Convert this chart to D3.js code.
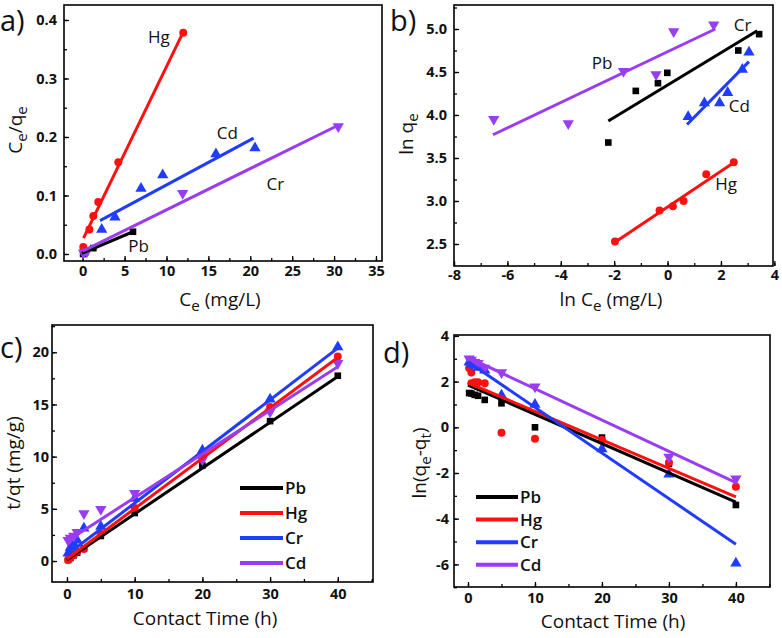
<!DOCTYPE html>
<html><head><meta charset="utf-8">
<script src="https://cdn.jsdelivr.net/npm/d3@7"></script>
<style>body{margin:0;background:#fff} svg{display:block} text{font-family:"Open Sans",sans-serif}</style>
</head><body><svg id="chart" width="782" height="638"></svg>
<script>
// ---------- colours ----------
const cBlack = "#000000", cRed = "#ff1010", cBlue = "#1f3cff", cPurple = "#9a3cf2";

// ---------- Panel a (Langmuir) ----------
const aHgX = [0.07, 0.8, 1.27, 1.86, 4.25, 12.0];
const aHgY = [0.012, 0.042, 0.065, 0.089, 0.157, 0.378];
const aHgFitX = [0.1, 11.95], aHgFitY = [0.027, 0.378];
const aCdX = [2.27, 3.85, 6.96, 9.55, 15.9, 20.56];
const aCdY = [0.042, 0.063, 0.112, 0.135, 0.171, 0.181];
const aCdFitX = [2.07, 20.4], aCdFitY = [0.057, 0.198];
const aCrX = [0.1, 0.5, 11.93, 30.5];
const aCrY = [0.002, 0.004, 0.104, 0.218];
const aCrFitX = [0.0, 30.5], aCrFitY = [0.005, 0.220];
const aPbX = [0.05, 0.3, 1.27, 6.0];
const aPbY = [0.0, 0.003, 0.01, 0.038];
const aPbFitX = [-0.1, 6.0], aPbFitY = [0.001, 0.038];
const aXTicks = [0, 5, 10, 15, 20, 25, 30, 35];
const aYTicks = [0.0, 0.1, 0.2, 0.3, 0.4];

// ---------- Panel b (Freundlich) ----------
const bPbX = [-6.51, -3.72, -1.65, -0.43, 0.23, 1.73];
const bPbY = [3.95, 3.90, 4.51, 4.47, 4.97, 5.05];
const bPbFitX = [-6.54, 1.79], bPbFitY = [3.77, 5.0];
const bCrX = [-2.22, -1.19, -0.36, -0.01, 2.65, 3.43];
const bCrY = [3.68, 4.28, 4.37, 4.49, 4.75, 4.94];
const bCrFitX = [-2.22, 3.36], bCrFitY = [3.93, 4.98];
const bCdX = [0.77, 1.38, 1.95, 2.25, 2.8, 3.05];
const bCdY = [3.98, 4.14, 4.14, 4.26, 4.53, 4.73];
const bCdFitX = [0.73, 3.05], bCdFitY = [3.89, 4.62];
const bHgX = [-1.97, -0.3, 0.2, 0.6, 1.45, 2.48];
const bHgY = [2.53, 2.89, 2.94, 3.0, 3.31, 3.45];
const bHgFitX = [-1.97, 2.5], bHgFitY = [2.52, 3.45];
const bXTicks = [-8, -6, -4, -2, 0, 2, 4];
const bYTicks = [2.5, 3.0, 3.5, 4.0, 4.5, 5.0];

// ---------- Panel c (pseudo-second order) ----------
const cTime = [0.17, 0.5, 1, 1.5, 2.5, 5, 10, 20, 30, 40];
const cPbY = [0.1, 0.3, 0.55, 0.8, 1.2, 2.4, 4.6, 9.15, 13.4, 17.75];
const cHgY = [0.1, 0.3, 0.6, 0.9, 1.15, 2.6, 5.07, 10.0, 14.75, 19.6];
const cCrY = [0.75, 1.3, 1.6, 2.0, 3.15, 3.3, 6.0, 10.6, 15.5, 20.5];
const cCdY = [2.0, 2.2, 2.4, 2.75, 4.55, 4.95, 6.5, 9.7, 14.3, 18.95];
const cPbFitX = [0, 40], cPbFitY = [0.13, 17.67];
const cHgFitX = [0, 40], cHgFitY = [0.2, 19.5];
const cCrFitX = [0, 40], cCrFitY = [0.6, 20.4];
const cCdFitX = [0, 40], cCdFitY = [1.9, 18.6];
const cXTicks = [0, 10, 20, 30, 40];
const cYTicks = [0, 5, 10, 15, 20];

// ---------- Panel d (pseudo-first order) ----------
const dPbX = [0.17, 0.5, 1, 1.5, 2.5, 5, 10, 20, 30, 40];
const dPbY = [1.5, 1.48, 1.42, 1.38, 1.2, 1.05, 0.0, -0.45, -1.6, -3.4];
const dHgX = [0.17, 0.5, 0.5, 1, 1.5, 2.5, 5, 10, 20, 30, 40];
const dHgY = [2.6, 2.4, 1.93, 1.97, 1.97, 1.93, -0.24, -0.5, -0.55, -1.55, -2.6];
const dCrX = [0.17, 0.5, 1, 1.5, 2.5, 5, 10, 20, 30, 40];
const dCrY = [2.85, 2.75, 2.7, 2.62, 2.5, 1.4, 1.0, -0.95, -2.05, -5.95];
const dCdX = [0.17, 0.5, 1, 1.5, 2.5, 5, 10, 30, 40];
const dCdY = [3.0, 2.95, 2.85, 2.8, 2.6, 2.4, 1.78, -1.3, -2.25];
const dPbFitX = [0, 40], dPbFitY = [1.85, -3.27];
const dHgFitX = [0, 40], dHgFitY = [1.95, -3.05];
const dCrFitX = [0, 40], dCrFitY = [2.87, -5.12];
const dCdFitX = [0, 40], dCdFitY = [3.06, -2.42];
const dXTicks = [0, 10, 20, 30, 40];
const dYTicks = [-6, -4, -2, 0, 2, 4];

const legendNames = ["Pb", "Hg", "Cr", "Cd"];
const legendColors = [cBlack, cRed, cBlue, cPurple];

// ---------- drawing ----------
const svg = d3.select("#chart");
svg.append("rect").attr("width", 782).attr("height", 638).attr("fill", "#fff");

const shapes = {
  square: d3.symbol().type(d3.symbolSquare).size(44),
  circle: d3.symbol().type(d3.symbolCircle).size(50),
  up: d3.symbol().type(d3.symbolTriangle).size(55),
  down: d3.symbol().type(d3.symbolTriangle).size(55)
};

function range(a, b, s) { const r = []; for (let v = a; v <= b + 1e-9; v += s) r.push(+v.toFixed(4)); return r; }

function richText(sel, parts, size) {
  parts.forEach(([t, sub], i) => {
    const ts = sel.append("tspan").text(t);
    if (sub) ts.attr("font-size", size * 0.8).attr("dy", size * 0.28);
    else if (i > 0 && parts[i - 1][1]) ts.attr("dy", -size * 0.28);
  });
}

function panel(p) {
  const g = svg.append("g");
  const x = d3.scaleLinear().domain(p.xDom).range([p.l, p.r]);
  const y = d3.scaleLinear().domain(p.yDom).range([p.b, p.t]);
  const fmt = p.fmt || (d => String(d));

  // minor ticks
  g.append("g").attr("transform", `translate(0,${p.b})`)
    .call(d3.axisBottom(x).tickValues(p.xMinor).tickSize(-3).tickFormat(""))
    .call(a => a.select(".domain").remove());
  g.append("g").attr("transform", `translate(${p.l},0)`)
    .call(d3.axisLeft(y).tickValues(p.yMinor).tickSize(-3).tickFormat(""))
    .call(a => a.select(".domain").remove());
  // major ticks
  const xa = g.append("g").attr("transform", `translate(0,${p.b})`)
    .call(d3.axisBottom(x).tickValues(p.xTicks).tickSize(-5).tickPadding(p.xPad).tickFormat(d => String(d)));
  const ya = g.append("g").attr("transform", `translate(${p.l},0)`)
    .call(d3.axisLeft(y).tickValues(p.yTicks).tickSize(-5).tickPadding(p.yPad).tickFormat(fmt));
  [xa, ya].forEach(a => {
    a.select(".domain").remove();
    a.selectAll("text").attr("font-family", "'Open Sans', sans-serif").attr("font-size", 14.5)
      .attr("font-weight", "bold").attr("fill", "#111");
  });
  g.selectAll(".tick line").attr("stroke", "#000").attr("stroke-width", 1.3);

  // series: markers then fits
  const plot = g.append("g");
  p.series.forEach(s => {
    plot.selectAll(null).data(s.x.map((v, i) => [v, s.y[i]])).join("path")
      .attr("d", shapes[s.shape])
      .attr("transform", d => `translate(${x(d[0])},${y(d[1])})` + (s.shape === "down" ? " rotate(180)" : ""))
      .attr("fill", s.color);
  });
  p.series.forEach(s => {
    plot.append("path")
      .attr("d", d3.line().x(d => x(d[0])).y(d => y(d[1]))(s.fx.map((v, i) => [v, s.fy[i]])))
      .attr("stroke", s.color).attr("stroke-width", 3).attr("fill", "none");
  });

  // data labels
  (p.labels || []).forEach(lb => {
    g.append("text").attr("x", x(lb[1])).attr("y", y(lb[2])).text(lb[0])
      .attr("font-size", 17).attr("fill", "#111");
  });

  // frame
  g.append("rect").attr("x", p.l).attr("y", p.t).attr("width", p.r - p.l).attr("height", p.b - p.t)
    .attr("fill", "none").attr("stroke", "#000").attr("stroke-width", 1.6);

  // axis titles
  const xt = g.append("text").attr("x", p.xTitlePos[0]).attr("y", p.xTitlePos[1])
    .attr("text-anchor", "middle").attr("font-size", 19).attr("fill", "#111");
  richText(xt, p.xTitle, 19);
  const yt = g.append("text").attr("transform", `translate(${p.yTitlePos[0]},${p.yTitlePos[1]}) rotate(-90)`)
    .attr("text-anchor", "middle").attr("font-size", 19).attr("fill", "#111");
  richText(yt, p.yTitle, 19);

  // panel tag
  g.append("text").attr("x", p.tag[1]).attr("y", p.tag[2]).text(p.tag[0])
    .attr("font-family", "'DejaVu Sans', sans-serif").attr("font-size", 29).attr("fill", "#111");

  // legend
  if (p.legend) {
    legendNames.forEach((n, i) => {
      const yy = p.legend.y0 + i * p.legend.dy;
      g.append("line").attr("x1", p.legend.x0).attr("x2", p.legend.x1).attr("y1", yy).attr("y2", yy)
        .attr("stroke", legendColors[i]).attr("stroke-width", 4);
      g.append("text").attr("x", p.legend.x1 + 2).attr("y", yy + 6).text(n)
        .attr("font-size", 17).attr("font-weight", 600).attr("fill", "#111");
    });
  }
}

panel({
  l: 64, r: 382, t: 5, b: 261, xDom: [-2.23, 35.72], yDom: [-0.012, 0.4256],
  xTicks: aXTicks, yTicks: aYTicks, xMinor: range(-0, 35, 2.5), yMinor: range(0, 0.4, 0.05),
  fmt: d3.format(".1f"), xPad: 5, yPad: 7,
  series: [
    { x: aPbX, y: aPbY, fx: aPbFitX, fy: aPbFitY, color: cBlack, shape: "square" },
    { x: aHgX, y: aHgY, fx: aHgFitX, fy: aHgFitY, color: cRed, shape: "circle" },
    { x: aCdX, y: aCdY, fx: aCdFitX, fy: aCdFitY, color: cBlue, shape: "up" },
    { x: aCrX, y: aCrY, fx: aCrFitX, fy: aCrFitY, color: cPurple, shape: "down" }
  ],
  labels: [["Hg", 7.8, 0.361], ["Cd", 16.0, 0.196], ["Cr", 21.95, 0.11], ["Pb", 5.44, 0.004]],
  xTitle: [["C", false], ["e", true], [" (mg/L)", false]], xTitlePos: [220, 306],
  yTitle: [["C", false], ["e", true], ["/q", false], ["e", true]], yTitlePos: [22, 130],
  tag: ["a)", 0, 31]
});

panel({
  l: 454, r: 773, t: 5, b: 266, xDom: [-8, 3.95], yDom: [2.244, 5.279],
  xTicks: bXTicks, yTicks: bYTicks, xMinor: range(-8, 4, 1), yMinor: range(2.5, 5.25, 0.25),
  fmt: d3.format(".1f"), xPad: 4, yPad: 7,
  series: [
    { x: bCrX, y: bCrY, fx: bCrFitX, fy: bCrFitY, color: cBlack, shape: "square" },
    { x: bHgX, y: bHgY, fx: bHgFitX, fy: bHgFitY, color: cRed, shape: "circle" },
    { x: bCdX, y: bCdY, fx: bCdFitX, fy: bCdFitY, color: cBlue, shape: "up" },
    { x: bPbX, y: bPbY, fx: bPbFitX, fy: bPbFitY, color: cPurple, shape: "down" }
  ],
  labels: [["Pb", -2.84, 4.54], ["Cr", 2.48, 4.98], ["Cd", 2.29, 4.03], ["Hg", 1.79, 3.13]],
  xTitle: [["ln C", false], ["e", true], [" (mg/L)", false]], xTitlePos: [611, 306],
  yTitle: [["ln q", false], ["e", true]], yTitlePos: [413, 134],
  tag: ["b)", 390, 31]
});

panel({
  l: 52, r: 373, t: 325, b: 582, xDom: [-2.21, 45.2], yDom: [-2.01, 22.61],
  xTicks: cXTicks, yTicks: cYTicks, xMinor: range(0, 45, 5), yMinor: range(0, 22.5, 2.5),
  xPad: 7, yPad: 3,
  series: [
    { x: cTime, y: cPbY, fx: cPbFitX, fy: cPbFitY, color: cBlack, shape: "square" },
    { x: cTime, y: cHgY, fx: cHgFitX, fy: cHgFitY, color: cRed, shape: "circle" },
    { x: cTime, y: cCrY, fx: cCrFitX, fy: cCrFitY, color: cBlue, shape: "up" },
    { x: cTime, y: cCdY, fx: cCdFitX, fy: cCdFitY, color: cPurple, shape: "down" }
  ],
  legend: { x0: 240, x1: 283, y0: 488, dy: 25 },
  xTitle: [["Contact Time (h)", false]], xTitlePos: [205, 625],
  yTitle: [["t/qt (mg/g)", false]], yTitlePos: [20, 463],
  tag: ["c)", 0, 358]
});

panel({
  l: 454, r: 770, t: 335, b: 587, xDom: [-2.09, 45.09], yDom: [-6.99, 4.04],
  xTicks: dXTicks, yTicks: dYTicks, xMinor: range(0, 45, 5), yMinor: range(-7, 4, 1),
  xPad: 6, yPad: 5,
  series: [
    { x: dPbX, y: dPbY, fx: dPbFitX, fy: dPbFitY, color: cBlack, shape: "square" },
    { x: dHgX, y: dHgY, fx: dHgFitX, fy: dHgFitY, color: cRed, shape: "circle" },
    { x: dCrX, y: dCrY, fx: dCrFitX, fy: dCrFitY, color: cBlue, shape: "up" },
    { x: dCdX, y: dCdY, fx: dCdFitX, fy: dCdFitY, color: cPurple, shape: "down" }
  ],
  legend: { x0: 476, x1: 518, y0: 497, dy: 22.6 },
  xTitle: [["Contact Time (h)", false]], xTitlePos: [613, 628],
  yTitle: [["ln(q", false], ["e", true], ["-q", false], ["t", true], [")", false]], yTitlePos: [426, 463],
  tag: ["d)", 383, 363]
});
</script></body></html>
